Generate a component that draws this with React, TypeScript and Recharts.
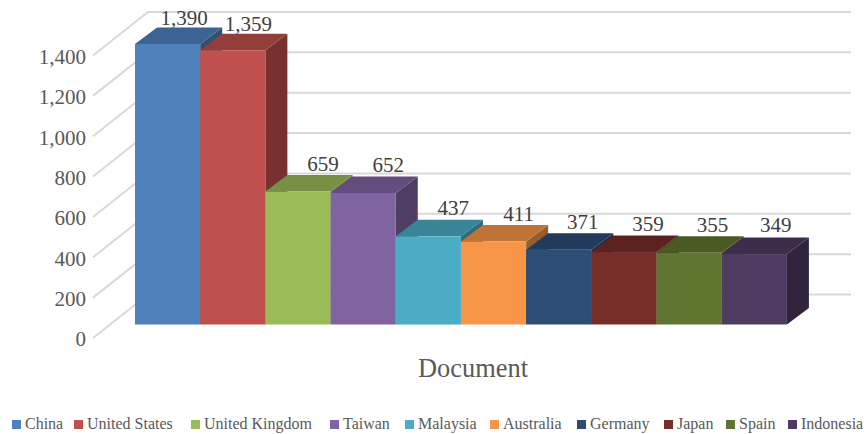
import { BarChart, Bar, XAxis, YAxis, CartesianGrid, Legend, LabelList } from 'recharts';

const countries = ['China', 'United States', 'United Kingdom', 'Taiwan', 'Malaysia', 'Australia', 'Germany', 'Japan', 'Spain', 'Indonesia'];
const counts = [1390, 1359, 659, 652, 437, 411, 371, 359, 355, 349];
const colors = ['#4F81BD', '#C0504D', '#9BBB59', '#8064A2', '#4BACC6', '#F79646', '#2C4D75', '#772C2A', '#5F7530', '#4D3B62'];
const yTicks = [0, 200, 400, 600, 800, 1000, 1200, 1400];

// nudges for the value labels, they sit over the top face of the box
const labelNudge = [16.5, 15.5, 25, 25, 25, 25, 24, 24, 23.5, 21.5];
const labelLift = [26.5, 26.5, 28, 28, 28, 27.5, 27.5, 28, 27.5, 29.5];
// legend entries are not evenly spaced in the original
const legendLeft = [12, 74, 191, 330, 405, 490, 577, 664, 726, 788];

const row: Record<string, string | number> = { category: 'Document' };
countries.forEach((c, i) => {
  row[c] = counts[i];
});
const data = [row];

const FONT = '"Liberation Serif", serif';
const DEPTH_X = 22;
const DEPTH_Y = 16.5;
const WALL_X = 55;
const WALL_Y = 30;

const shade = (hex: string, k: number) => {
  const n = parseInt(hex.slice(1), 16);
  const ch = (v: number) => Math.round(v * k);
  return `rgb(${ch((n >> 16) & 255)},${ch((n >> 8) & 255)},${ch(n & 255)})`;
};

const Box3D = (props: any) => {
  const { x, y, width, height, fill } = props;
  const r = x + width;
  const b = y + height;
  return (
    <g>
      <polygon points={`${r},${y} ${r + DEPTH_X},${y - DEPTH_Y} ${r + DEPTH_X},${b - DEPTH_Y} ${r},${b}`} fill={shade(fill, 0.62)} />
      <polygon points={`${x},${y} ${x + DEPTH_X},${y - DEPTH_Y} ${r + DEPTH_X},${y - DEPTH_Y} ${r},${y}`} fill={shade(fill, 0.77)} />
      <rect x={x} y={y} width={width} height={height} fill={fill} />
    </g>
  );
};

const WallLine = (props: any) => {
  const { y1 } = props;
  const backY = y1 - WALL_Y;
  return (
    <polyline
      points={`93,${y1 + 13.5} ${93 + WALL_X},${backY} 851,${backY}`}
      fill="none"
      stroke="#D9D9D9"
      strokeWidth={2}
    />
  );
};

const LegendRow = ({ payload }: any) => (
  <div style={{ position: 'relative', height: 0 }}>
    {(payload || []).map((p: any, i: number) => (
      <div
        key={p.value}
        style={{
          position: 'absolute',
          left: legendLeft[i],
          top: 0,
          display: 'flex',
          alignItems: 'center',
          whiteSpace: 'nowrap',
          fontFamily: FONT,
          fontSize: 16,
          lineHeight: '18px',
          color: '#595959',
        }}
      >
        <span style={{ width: 9, height: 9, background: p.color, marginRight: 4, display: 'inline-block' }} />
        {p.value}
      </div>
    ))}
  </div>
);

const App = () => {
  return (
    <div style={{ position: 'absolute', left: 0, top: 0, width: 864, height: 434, background: '#fff' }}>
      <BarChart
        width={864}
        height={434}
        data={data}
        barCategoryGap={0}
        barGap={0}
        barSize={65.19}
        margin={{ top: 42, right: 77, bottom: 69.5, left: 0 }}
      >
        <CartesianGrid vertical={false} horizontal={(p: any) => <WallLine key={p.index} {...p} />} />
        <XAxis
          dataKey="category"
          height={40}
          axisLine={false}
          tickLine={false}
          tickSize={0}
          tickMargin={34}
          tick={{ dx: 12, fontFamily: FONT, fontSize: 26.4, fill: '#595959' }}
        />
        <YAxis
          width={135}
          domain={[0, 1400]}
          ticks={yTicks}
          axisLine={false}
          tickLine={false}
          tickSize={0}
          tickMargin={49}
          tickFormatter={(v: number) => v.toLocaleString('en-US')}
          tick={{ dy: 14.5, fontFamily: FONT, fontSize: 21, fill: '#595959' }}
        />
        <Legend content={<LegendRow />} itemSorter={null} wrapperStyle={{ left: 0, top: 415, width: 864, height: 0 }} />
        {countries.map((c, i) => (
          <Bar key={c} dataKey={c} name={c} fill={colors[i]} shape={<Box3D />} isAnimationActive={false}>
            <LabelList
              dataKey={c}
              content={(p: any) => (
                <text
                  x={p.x + p.width / 2 + labelNudge[i]}
                  y={p.y - labelLift[i]}
                  textAnchor="middle"
                  dominantBaseline="central"
                  fontFamily={FONT}
                  fontSize={21}
                  fill="#404040"
                >
                  {Number(p.value).toLocaleString('en-US')}
                </text>
              )}
            />
          </Bar>
        ))}
      </BarChart>
    </div>
  );
};

export default App;
